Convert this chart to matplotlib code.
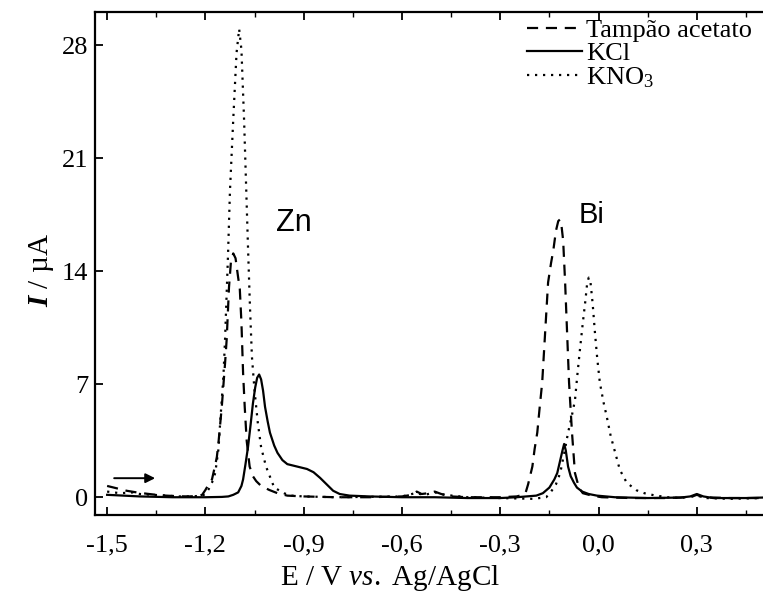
import numpy as np
import matplotlib
matplotlib.use('Agg')
import matplotlib.pyplot as plt
from matplotlib.ticker import MultipleLocator, FuncFormatter

plt.rcParams['font.family'] = 'Liberation Serif'
plt.rcParams['mathtext.fontset'] = 'custom'
plt.rcParams['mathtext.rm'] = 'Liberation Serif'
plt.rcParams['mathtext.it'] = 'Liberation Serif:italic'
plt.rcParams['mathtext.bf'] = 'Liberation Serif:italic:bold'

# curves: (E / V, I / uA)
tampao_E = [-1.50, -1.47, -1.44, -1.41, -1.38, -1.35, -1.32, -1.28, -1.25, -1.22, -1.21, -1.20, -1.19,
            -1.18, -1.17, -1.165, -1.16, -1.15, -1.14, -1.135, -1.128, -1.122, -1.115, -1.108, -1.10,
            -1.095, -1.09, -1.085, -1.08, -1.074, -1.065, -1.055, -1.045, -1.03, -1.005, -0.98, -0.95,
            -0.90, -0.80, -0.70, -0.60, -0.57, -0.555, -0.54, -0.52, -0.50, -0.48, -0.45, -0.40, -0.30,
            -0.25, -0.23, -0.223, -0.215, -0.202, -0.195, -0.187, -0.18, -0.172, -0.163, -0.154, -0.145,
            -0.138, -0.13, -0.123, -0.118, -0.113, -0.108, -0.102, -0.096, -0.090, -0.081, -0.072,
            -0.06, -0.048, -0.02, 0.01, 0.1, 0.2, 0.28, 0.30, 0.32, 0.40, 0.50]
tampao_I = [0.70, 0.55, 0.40, 0.30, 0.22, 0.15, 0.10, 0.06, 0.05, 0.08, 0.15, 0.45, 0.80,
            1.10, 2.0, 2.5, 3.4, 5.6, 8.3, 9.8, 13.0, 14.6, 15.1, 14.8, 13.6,
            12.9, 10.8, 7.7, 5.6, 3.5, 1.9, 1.3, 1.0, 0.7, 0.45, 0.25, 0.1,
            0.05, 0.0, 0.0, 0.05, 0.15, 0.35, 0.2, 0.25, 0.35, 0.2, 0.05, 0.0, 0.0,
            0.05, 0.15, 0.25, 0.8, 1.9, 3.0, 4.0, 5.5, 7.1, 10.2, 13.3, 14.5,
            15.3, 16.5, 17.1, 17.2, 16.8, 15.9, 13.3, 10.2, 7.1, 4.0, 1.5,
            0.6, 0.25, 0.1, 0.0, -0.05, -0.05, 0.0, 0.15, 0.0, -0.05, -0.05]

kcl_E = [-1.50, -1.45, -1.40, -1.30, -1.20, -1.15, -1.13, -1.115, -1.10, -1.09, -1.085, -1.078, -1.07,
         -1.062, -1.055, -1.048, -1.042, -1.036, -1.030, -1.024, -1.018, -1.010, -1.003, -0.99, -0.98,
         -0.965, -0.95, -0.93, -0.91, -0.89, -0.87, -0.85, -0.83, -0.81, -0.79, -0.76, -0.70, -0.60,
         -0.50, -0.40, -0.30, -0.25, -0.19, -0.17, -0.15, -0.135, -0.126, -0.118, -0.11, -0.105, -0.10,
         -0.093, -0.085, -0.075, -0.066, -0.05, -0.03, -0.005, 0.05, 0.15, 0.25, 0.28, 0.30, 0.32,
         0.35, 0.45, 0.50]
kcl_I = [0.15, 0.10, 0.05, 0.0, 0.0, 0.02, 0.05, 0.15, 0.3, 0.7, 1.1, 2.0, 3.1,
         4.5, 5.8, 6.8, 7.4, 7.6, 7.3, 6.6, 5.6, 4.7, 4.0, 3.2, 2.75,
         2.3, 2.05, 1.95, 1.85, 1.75, 1.55, 1.2, 0.8, 0.4, 0.2, 0.1, 0.05, 0.0,
         0.0, -0.05, -0.05, 0.0, 0.1, 0.25, 0.6, 1.1, 1.5, 2.2, 2.9, 3.3, 2.9,
         1.9, 1.3, 0.9, 0.6, 0.35, 0.2, 0.1, 0.0, -0.05, -0.02, 0.05, 0.2, 0.05,
         -0.05, -0.05, -0.02]

kno3_E = [-1.50, -1.46, -1.42, -1.40, -1.36, -1.32, -1.28, -1.24, -1.21, -1.20, -1.19, -1.18, -1.17,
          -1.16, -1.155, -1.145, -1.14, -1.131, -1.125, -1.115, -1.105, -1.097, -1.090, -1.082, -1.070,
          -1.064, -1.058, -1.050, -1.040, -1.030, -1.015, -0.99, -0.96, -0.94, -0.90, -0.80, -0.60,
          -0.56, -0.53, -0.50, -0.47, -0.40, -0.30, -0.20, -0.16, -0.148, -0.13, -0.117, -0.105,
          -0.093, -0.082, -0.072, -0.065, -0.057, -0.048, -0.04, -0.035, -0.03, -0.025, -0.018,
          -0.011, -0.004, 0.004, 0.015, 0.025, 0.037, 0.049, 0.065, 0.086, 0.116, 0.14, 0.17, 0.21,
          0.25, 0.30, 0.33, 0.40, 0.50]
kno3_I = [0.35, 0.25, 0.3, 0.2, 0.15, 0.1, 0.05, 0.05, 0.1, 0.2, 0.5, 0.9, 1.5,
          3.0, 4.6, 7.5, 9.8, 15.0, 19.0, 23.4, 27.5, 29.0, 27.7, 23.4, 15.5,
          11.8, 8.7, 6.6, 4.6, 3.1, 1.9, 0.6, 0.25, 0.1, 0.05, 0.0, 0.05,
          0.25, 0.15, 0.3, 0.15, 0.0, -0.05, -0.1, 0.0, 0.25, 0.8, 1.5, 2.7,
          4.0, 5.0, 6.0, 7.5, 9.1, 10.8, 12.2, 13.2, 13.6, 13.4, 12.0,
          10.2, 8.6, 7.1, 5.9, 5.0, 3.8, 2.9, 1.7, 0.9, 0.43, 0.25, 0.12, 0.0,
          -0.05, 0.1, -0.05, -0.1, -0.05]

x_ticks = [-1.5, -1.2, -0.9, -0.6, -0.3, 0.0, 0.3]
y_ticks = [0, 7, 14, 21, 28]

fig = plt.figure(figsize=(7.63, 5.96), dpi=100)
ax = fig.add_axes([95/763, 1-515/596, 1-95/763, (515-12)/596])

lw = 1.6
ax.plot(tampao_E, tampao_I, color='k', lw=lw, linestyle=(0, (5, 3.5)), label='Tampão acetato')
ax.plot(kcl_E, kcl_I, color='k', lw=lw, linestyle='-', label='KCl')
ax.plot(kno3_E, kno3_I, color='k', lw=lw, linestyle=(0, (1, 2.6)), label='KNO$_3$')

ax.set_xlim(-1.537, 0.502)
ax.set_ylim(-1.1, 30.05)
ax.set_xticks(x_ticks)
ax.set_yticks(y_ticks)
ax.xaxis.set_minor_locator(MultipleLocator(0.15))
ax.xaxis.set_major_formatter(FuncFormatter(lambda v, p: ('%.1f' % v).replace('.', ',').replace('-0,0', '0,0')))
ax.tick_params(axis='both', which='major', direction='in', length=6, width=1.3, labelsize=19, pad=5)
ax.tick_params(axis='x', which='major', pad=14)
ax.tick_params(axis='x', which='both', top=True)
ax.tick_params(axis='x', which='minor', direction='in', length=3.5, width=1.0)
for s in ax.spines.values():
    s.set_linewidth(1.6)
ax.spines['right'].set_visible(False)

ax.set_xlabel('E / V $\\mathit{vs.}$ Ag/AgCl', fontsize=21, labelpad=0)
ax.xaxis.set_label_coords((390 - 95) / (763 - 95), -0.096)
ax.set_ylabel('$\\mathbf{I}$ / µA', fontsize=21, labelpad=2)
ax.yaxis.set_label_coords(-0.058, (515 - 270) / 503)

ax.annotate('', xy=(-1.345, 1.18), xytext=(-1.487, 1.18),
            arrowprops=dict(arrowstyle='-|>', color='k', lw=1.4, mutation_scale=14))
ax.text(-0.93, 17.0, 'Zn', fontsize=22, family='Liberation Sans', ha='center', va='center')
ax.text(-0.02, 17.5, 'Bi', fontsize=21, family='Liberation Sans', ha='center', va='center')

ax.legend(loc='upper right', frameon=False, fontsize=19, handlelength=2.1, handletextpad=0.15,
          labelspacing=0.0, borderaxespad=0.0, bbox_to_anchor=(1.0, 1.008))

fig.savefig('out.png', dpi=100)
